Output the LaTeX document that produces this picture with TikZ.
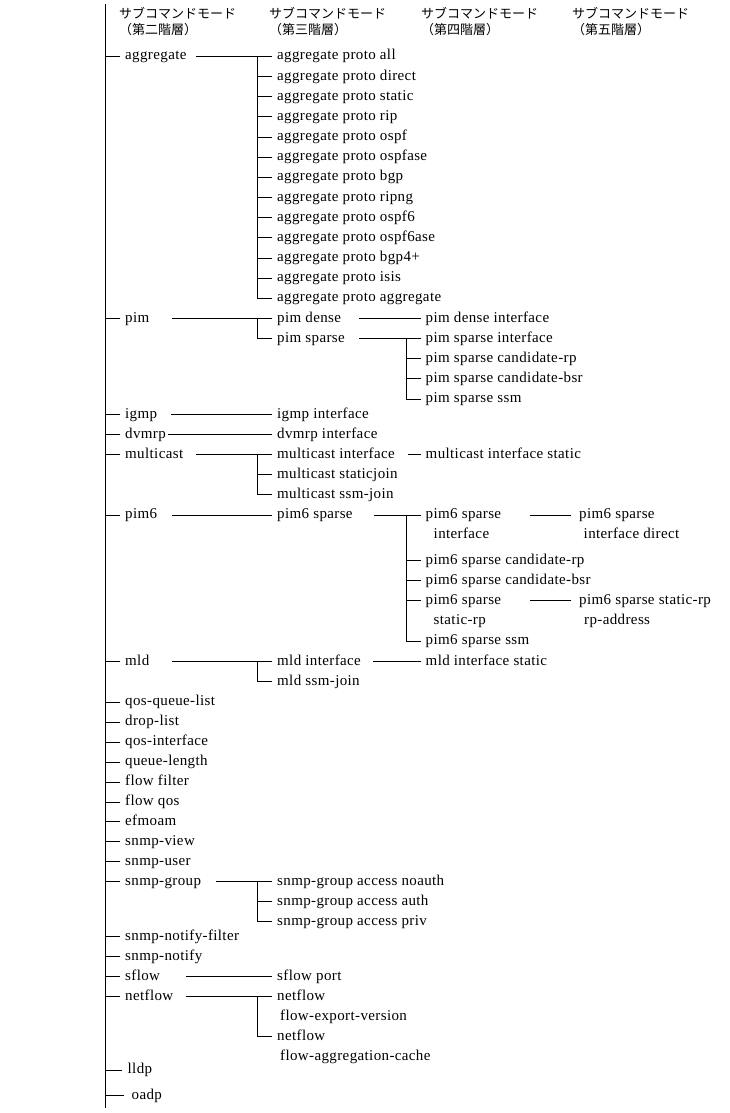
\documentclass[tikz,border=0pt]{standalone}
\usepackage{fontspec}
\setmainfont{Liberation Serif}[LetterSpace=2.5]
\newfontfamily\jpfont{Noto Sans CJK JP}
\begin{document}
\begin{tikzpicture}[x=1pt,y=-1pt,
  every node/.style={font=\fontsize{15}{20}\selectfont, text height=10pt, text depth=3pt, inner ysep=0pt, anchor=west},
  l2/.style={inner xsep=5pt},
  l3/.style={inner xsep=5pt},
  l4/.style={inner xsep=4.5pt},
  l5/.style={inner xsep=8pt},
  hd/.style={font={\jpfont\fontsize{13}{16}\selectfont}, text height=11pt, text depth=2pt, inner sep=0pt, anchor=base west},
  ln/.style={line width=0.9pt, line cap=rect}]
\useasboundingbox (0,0) rectangle (729,1113);

% headers
\node[hd] (h2a) at (119,18.5) {サブコマンドモード};
\node[hd] (h2b) at (119,35) {（第二階層）};
\node[hd] (h3a) at (269,18.5) {サブコマンドモード};
\node[hd] (h3b) at (269,35) {（第三階層）};
\node[hd] (h4a) at (421,18.5) {サブコマンドモード};
\node[hd] (h4b) at (421,35) {（第四階層）};
\node[hd] (h5a) at (572,18.5) {サブコマンドモード};
\node[hd] (h5b) at (572,35) {（第五階層）};

% trunk
\coordinate (top) at (105,4);
\coordinate (bot) at (105,1108);
\draw[ln] (top) -- (bot);

% level 2
\node[l2] (agg) at (120,56.5) {aggregate};
\node[l2] (pim) at (120,318.5) {pim};
\node[l2] (igmp) at (120,414.5) {igmp};
\node[l2] (dvmrp) at (120,434.5) {dvmrp};
\node[l2] (mc) at (120,454.5) {multicast};
\node[l2] (pimsix) at (120,515) {pim6};
\node[l2] (mld) at (120,661.5) {mld};
\node[l2] (qql) at (120,702) {qos-queue-list};
\node[l2] (drop) at (120,722) {drop-list};
\node[l2] (qif) at (120,742) {qos-interface};
\node[l2] (qlen) at (120,762) {queue-length};
\node[l2] (ff) at (120,782) {flow filter};
\node[l2] (fq) at (120,802) {flow qos};
\node[l2] (efm) at (120,821.5) {efmoam};
\node[l2] (sv) at (120,841.5) {snmp-view};
\node[l2] (su) at (120,861.5) {snmp-user};
\node[l2] (sg) at (120,881.5) {snmp-group};
\node[l2] (snf) at (120,936.7) {snmp-notify-filter};
\node[l2] (sn) at (120,956.7) {snmp-notify};
\node[l2] (sfl) at (120,976.7) {sflow};
\node[l2] (nf) at (120,996.7) {netflow};
\node[l2, inner xsep=6pt] (lldp) at (121.5,1070) {lldp};
\node[l2, inner xsep=8pt] (oadp) at (123.5,1095.5) {oadp};

\foreach \n in {agg,pim,igmp,dvmrp,mc,pimsix,mld,qql,drop,qif,qlen,ff,fq,efm,sv,su,sg,snf,sn,sfl,nf,lldp,oadp}
  \draw[ln] (top |- \n.west) -- (\n.west);

% aggregate
\foreach \s [count=\i from 0] in {all,direct,static,rip,ospf,ospfase,bgp,ripng,ospf6,ospf6ase,bgp4+,isis,aggregate}
  \node[l3] (ap\i) at (272,{56.5+20.15*\i}) {aggregate proto \s};
\coordinate (aggb) at (257,56.5);
\draw[ln] ([xshift=76pt]agg.west) -- (ap0.west);
\draw[ln] (aggb) -- (aggb |- ap12.west);
\foreach \i in {1,...,12} \draw[ln] (aggb |- ap\i.west) -- (ap\i.west);

% pim
\node[l3] (pd) at (272,318.5) {pim dense};
\node[l3] (ps) at (272,338.6) {pim sparse};
\coordinate (pimb) at (257,318.5);
\draw[ln] ([xshift=52pt]pim.west) -- (pd.west);
\draw[ln] (pimb) -- (pimb |- ps.west) -- (ps.west);
\node[l4] (pdi) at (421,318.5) {pim dense interface};
\draw[ln] ([xshift=87pt]pd.west) -- (pdi.west);
\node[l4] (psi) at (421,338.6) {pim sparse interface};
\node[l4] (pscr) at (421,358.8) {pim sparse candidate-rp};
\node[l4] (psbsr) at (421,378.9) {pim sparse candidate-bsr};
\node[l4] (psssm) at (421,399.1) {pim sparse ssm};
\coordinate (psb) at (406,338.6);
\draw[ln] ([xshift=87pt]ps.west) -- (psi.west);
\draw[ln] (psb) -- (psb |- psssm.west);
\foreach \n in {pscr,psbsr,psssm} \draw[ln] (psb |- \n.west) -- (\n.west);

% igmp, dvmrp
\node[l3] (igi) at (272,414.5) {igmp interface};
\draw[ln] ([xshift=51pt]igmp.west) -- (igi.west);
\node[l3] (dvi) at (272,434.5) {dvmrp interface};
\draw[ln] ([xshift=48pt]dvmrp.west) -- (dvi.west);

% multicast
\node[l3] (mci) at (272,454.5) {multicast interface};
\node[l3] (mcs) at (272,474.5) {multicast staticjoin};
\node[l3] (mcj) at (272,494.5) {multicast ssm-join};
\coordinate (mcb) at (257,454.5);
\draw[ln] ([xshift=76pt]mc.west) -- (mci.west);
\draw[ln] (mcb) -- (mcb |- mcj.west);
\foreach \n in {mcs,mcj} \draw[ln] (mcb |- \n.west) -- (\n.west);
\node[l4] (mcis) at (421,454.5) {multicast interface static};
\draw[ln] ([xshift=136pt]mci.west) -- (mcis.west);

% pim6
\node[l3] (psx) at (272,515) {pim6 sparse};
\draw[ln] ([xshift=52pt]pimsix.west) -- (psx.west);
\node[l4] (psxi) at (421,515) {pim6 sparse};
\node[l4] (psxib) at (429,535) {interface};
\node[l4] (psxcr) at (421,560.5) {pim6 sparse candidate-rp};
\node[l4] (psxbsr) at (421,580.5) {pim6 sparse candidate-bsr};
\node[l4] (psxsr) at (421,600.5) {pim6 sparse};
\node[l4] (psxsrb) at (429,620.5) {static-rp};
\node[l4] (psxssm) at (421,641) {pim6 sparse ssm};
\coordinate (psxb) at (406,515);
\draw[ln] ([xshift=102pt]psx.west) -- (psxi.west);
\draw[ln] (psxb) -- (psxb |- psxssm.west);
\foreach \n in {psxcr,psxbsr,psxsr,psxssm} \draw[ln] (psxb |- \n.west) -- (\n.west);
\node[l5] (psxid) at (571,515) {pim6 sparse};
\node[l5] (psxidb) at (575.5,535) {interface direct};
\draw[ln] ([xshift=109pt]psxi.west) -- (psxid.west);
\node[l5] (psxra) at (571,600.5) {pim6 sparse static-rp};
\node[l5] (psxrab) at (576,620.5) {rp-address};
\draw[ln] ([xshift=109pt]psxsr.west) -- (psxra.west);

% mld
\node[l3] (mldi) at (272,661.5) {mld interface};
\node[l3] (mldj) at (272,681.5) {mld ssm-join};
\coordinate (mldb) at (257,661.5);
\draw[ln] ([xshift=52pt]mld.west) -- (mldi.west);
\draw[ln] (mldb) -- (mldb |- mldj.west) -- (mldj.west);
\node[l4] (mldis) at (421,661.5) {mld interface static};
\draw[ln] ([xshift=101pt]mldi.west) -- (mldis.west);

% snmp-group
\node[l3] (sgn) at (272,881.5) {snmp-group access noauth};
\node[l3] (sga) at (272,901.5) {snmp-group access auth};
\node[l3] (sgp) at (272,921.5) {snmp-group access priv};
\coordinate (sgb) at (257,881.5);
\draw[ln] ([xshift=96pt]sg.west) -- (sgn.west);
\draw[ln] (sgb) -- (sgb |- sgp.west);
\foreach \n in {sga,sgp} \draw[ln] (sgb |- \n.west) -- (\n.west);

% sflow
\node[l3] (sfp) at (272,976.7) {sflow port};
\draw[ln] ([xshift=66pt]sfl.west) -- (sfp.west);

% netflow
\node[l3] (nfe) at (272,996.7) {netflow};
\node[l3] (nfeb) at (275,1016.5) {flow-export-version};
\node[l3] (nfa) at (272,1036.7) {netflow};
\node[l3] (nfab) at (275,1056.5) {flow-aggregation-cache};
\coordinate (nfb) at (257,996.7);
\draw[ln] ([xshift=66pt]nf.west) -- (nfe.west);
\draw[ln] (nfb) -- (nfb |- nfa.west) -- (nfa.west);
\end{tikzpicture}
\end{document}
